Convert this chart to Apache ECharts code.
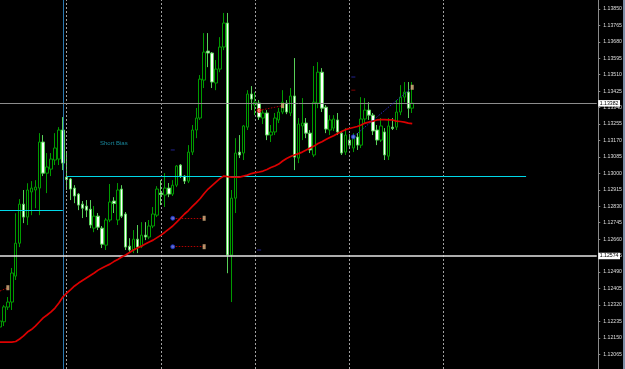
<!DOCTYPE html>
<html><head><meta charset="utf-8">
<script src="https://cdn.jsdelivr.net/npm/echarts@6/dist/echarts.min.js"></script>
<style>html,body{margin:0;padding:0;background:#000;overflow:hidden}#c{width:625px;height:369px}</style>
</head><body><div id="c"></div>
<script>
// ---- data (H1 candles) ----
const tickLabels = ['1.12065','1.12150','1.12235','1.12320','1.12405','1.12490','1.12575','1.12660','1.12745','1.12830','1.12915','1.13000','1.13085','1.13170','1.13255','1.13340','1.13425','1.13510','1.13595','1.13680','1.13765','1.13850'];
const priceMin = 1.11989, priceMax = 1.13896;
const opens = [1.12206,1.12233,1.12309,1.12335,1.12469,1.12639,1.12841,1.12774,1.12904,1.12914,1.12924,1.13162,1.13001,1.13022,1.13069,1.13074,1.13224,1.12981,1.12971,1.12924,1.12893,1.12841,1.12831,1.12815,1.12717,1.12779,1.12717,1.12629,1.12759,1.12857,1.12759,1.12919,1.12790,1.12624,1.12604,1.12660,1.12624,1.12681,1.12671,1.12728,1.12784,1.12898,1.12888,1.12924,1.12893,1.12939,1.13043,1.12986,1.12960,1.13110,1.13224,1.13286,1.13482,1.13632,1.13622,1.13467,1.13539,1.13653,1.13777,1.12578,1.12872,1.13110,1.13105,1.13239,1.13410,1.13353,1.13363,1.13286,1.13312,1.13198,1.13214,1.13276,1.13317,1.13363,1.13312,1.13400,1.13079,1.13245,1.13260,1.13208,1.13095,1.13363,1.13523,1.13342,1.13224,1.13234,1.13276,1.13208,1.13110,1.13172,1.13131,1.13188,1.13146,1.13281,1.13327,1.13301,1.13224,1.13172,1.13214,1.13089,1.13239,1.13239,1.13317,1.13394,1.13420,1.13337];
const closes = [1.12237,1.12310,1.12335,1.12485,1.12639,1.12841,1.12774,1.12914,1.12924,1.12929,1.13162,1.13001,1.13033,1.13074,1.13131,1.13224,1.13053,1.12968,1.12919,1.12883,1.12836,1.12820,1.12810,1.12733,1.12779,1.12722,1.12634,1.12759,1.12852,1.12844,1.12914,1.12779,1.12619,1.12604,1.12660,1.12619,1.12681,1.12671,1.12728,1.12790,1.12919,1.12891,1.12924,1.12893,1.12939,1.13038,1.12986,1.12960,1.13110,1.13224,1.13286,1.13487,1.13627,1.13622,1.13472,1.13539,1.13653,1.13777,1.12578,1.12872,1.13105,1.13095,1.13245,1.13410,1.13384,1.13368,1.13291,1.13312,1.13198,1.13214,1.13286,1.13317,1.13368,1.13317,1.13400,1.13084,1.13255,1.13260,1.13208,1.13121,1.13368,1.13523,1.13337,1.13229,1.13276,1.13281,1.13214,1.13105,1.13198,1.13146,1.13182,1.13146,1.13281,1.13327,1.13301,1.13219,1.13172,1.13245,1.13095,1.13245,1.13232,1.13317,1.13394,1.13420,1.13337,1.13363];
const lows = [1.12190,1.12211,1.12294,1.12294,1.12449,1.12619,1.12743,1.12733,1.12784,1.12820,1.12784,1.12986,1.12898,1.12986,1.13043,1.13043,1.13017,1.12914,1.12862,1.12846,1.12810,1.12769,1.12774,1.12717,1.12696,1.12707,1.12614,1.12604,1.12748,1.12795,1.12733,1.12769,1.12604,1.12593,1.12588,1.12588,1.12614,1.12655,1.12660,1.12717,1.12774,1.12836,1.12826,1.12877,1.12883,1.12929,1.12976,1.12945,1.12950,1.13095,1.13182,1.13276,1.13441,1.13549,1.13441,1.13430,1.13523,1.13637,1.12484,1.12335,1.12795,1.13079,1.13069,1.13224,1.13327,1.13301,1.13276,1.13255,1.13172,1.13162,1.13198,1.13260,1.13306,1.13306,1.13296,1.13017,1.13053,1.13172,1.13182,1.13105,1.13084,1.13337,1.13317,1.13208,1.13198,1.13219,1.13198,1.13095,1.13095,1.13131,1.13110,1.13121,1.13131,1.13255,1.13276,1.13198,1.13146,1.13162,1.13069,1.13069,1.13224,1.13224,1.13301,1.13368,1.13286,1.13312];
const highs = [1.12263,1.12319,1.12361,1.12511,1.12794,1.12867,1.12914,1.12949,1.12960,1.12965,1.13208,1.13198,1.13105,1.13105,1.13208,1.13239,1.13291,1.13110,1.12976,1.12939,1.12898,1.12857,1.12862,1.12862,1.12831,1.12795,1.12728,1.12769,1.12945,1.12877,1.12950,1.12939,1.12800,1.12665,1.12707,1.12733,1.12748,1.12748,1.12759,1.12826,1.12934,1.12965,1.13001,1.12950,1.12965,1.13043,1.13048,1.12991,1.13146,1.13250,1.13338,1.13508,1.13725,1.13725,1.13627,1.13586,1.13704,1.13829,1.13829,1.12914,1.13182,1.13198,1.13250,1.13430,1.13451,1.13420,1.13379,1.13327,1.13327,1.13250,1.13312,1.13338,1.13430,1.13379,1.13441,1.13596,1.13286,1.13389,1.13286,1.13224,1.13555,1.13575,1.13544,1.13353,1.13301,1.13301,1.13312,1.13219,1.13234,1.13203,1.13208,1.13208,1.13394,1.13389,1.13368,1.13312,1.13250,1.13286,1.13234,1.13286,1.13286,1.13379,1.13456,1.13472,1.13472,1.13472];
const movingAvg = [1.12128,1.12128,1.12128,1.12128,1.12131,1.12144,1.12160,1.12180,1.12193,1.12211,1.12232,1.12253,1.12268,1.12284,1.12304,1.12330,1.12361,1.12381,1.12399,1.12418,1.12433,1.12446,1.12459,1.12472,1.12485,1.12500,1.12511,1.12521,1.12531,1.12544,1.12555,1.12568,1.12578,1.12591,1.12604,1.12614,1.12624,1.12635,1.12645,1.12655,1.12668,1.12681,1.12696,1.12712,1.12728,1.12748,1.12769,1.12790,1.12808,1.12829,1.12849,1.12870,1.12896,1.12919,1.12937,1.12955,1.12973,1.12986,1.12983,1.12981,1.12981,1.12981,1.12986,1.12991,1.12999,1.13004,1.13007,1.13012,1.13020,1.13030,1.13038,1.13048,1.13064,1.13077,1.13087,1.13095,1.13102,1.13110,1.13121,1.13131,1.13141,1.13154,1.13164,1.13175,1.13185,1.13195,1.13206,1.13216,1.13226,1.13232,1.13237,1.13242,1.13250,1.13260,1.13265,1.13270,1.13276,1.13278,1.13278,1.13276,1.13276,1.13270,1.13268,1.13265,1.13260,1.13257];
const daySeparators = [17, 41, 65, 89, 113];
const sessionLine = 16;
const upperLevel = 1.12985, upperFrom = 17, upperTo = 134;
const lowerLevel = 1.12809, lowerFrom = 0, lowerTo = 16;
const bidLevel = 1.13362, bidText = '1.13382';
const whiteLevel = 1.12573, whiteText = '1.12574';
const buyOpen = [[44, 1.12768], [44, 1.12621], [90, 1.13189]];
const sellOpen = [[66, 1.13325]];
const closeMarks = [[52, 1.12768], [52, 1.12621], [72, 1.13350], [105, 1.13445], [2, 1.12409]];
const redTrades = [[[44, 1.12768], [52, 1.12768]], [[44, 1.12621], [52, 1.12621]], [[66, 1.13325], [72, 1.13350]], [[0, 1.12392], [2, 1.12409]]];
const blueTrades = [[[90, 1.13189], [105, 1.13445]]];
const blueStops = [[44, 1.13121], [66, 1.12604], [90, 1.13498]];
const redStops = [[90, 1.13430]];
const note = {text: 'Short Bias', bar: 29, price: 1.13157};
const BAR_SLOTS = 153;

// ---- build ----
const BASE = 1.12065, STEP = 85;
const V = p => (p - BASE) * 100000;
const tickValues = tickLabels.map((_, i) => i * STEP);
const cats = Array.from({length: BAR_SLOTS}, (_, i) => 'b' + i);
const candles = opens.map((o, i) => [V(o), V(closes[i]), V(lows[i]), V(highs[i])]);
const pt = a => [a[0], V(a[1])];
const cyan = {color: '#00d8e8', width: 1.2, type: 'solid'};
const FONT = 'Liberation Sans';
const boxLabel = t => ({show: true, position: 'end', distance: 1.5, formatter: () => t, backgroundColor: '#ffffff', color: '#000000', fontSize: 5.2, fontFamily: FONT, padding: [1, 1.5, 0.5, 1.5]});

const chart = echarts.init(document.getElementById('c'), null, {renderer: 'canvas'});
chart.setOption({
  backgroundColor: '#000000',
  animation: false,
  grid: {left: 0, right: 26.1, top: 0, bottom: 0, containLabel: false},
  xAxis: {type: 'category', data: cats, boundaryGap: false,
    axisLine: {show: false}, axisTick: {show: false}, axisLabel: {show: false}, splitLine: {show: false}},
  yAxis: {type: 'value', position: 'right', offset: 1.5, min: V(priceMin), max: V(priceMax),
    axisLine: {show: true, lineStyle: {color: '#8a8a8a', width: 1}},
    axisTick: {show: true, length: 2, customValues: tickValues, lineStyle: {color: '#8a8a8a'}},
    splitLine: {show: false},
    axisLabel: {color: '#dedede', fontSize: 5.2, fontFamily: FONT, margin: 5, customValues: tickValues,
      showMinLabel: true, showMaxLabel: true,
      formatter: v => { const r = v / STEP, i = Math.round(r); return Math.abs(r - i) < 0.01 ? (tickLabels[i] || '') : ''; }}},
  series: [
    {type: 'line', data: [], z: 1, silent: true,
      markLine: {silent: true, symbol: 'none', animation: false, label: {show: false},
        data: daySeparators.map(i => ({xAxis: i, lineStyle: {color: '#a0a0a0', type: [2, 2], width: 1}}))
          .concat([{xAxis: sessionLine, lineStyle: {color: '#2a78b0', type: 'solid', width: 1}}])}},
    {type: 'candlestick', data: candles, z: 3, barWidth: 3, clip: true,
      itemStyle: {color: '#000000', color0: '#ffffff', borderColor: '#009c00', borderColor0: '#58d058', borderWidth: 1}},
    {type: 'line', data: [], z: 4, silent: true,
      markLine: {silent: true, symbol: 'none', animation: false, lineStyle: cyan, label: {show: false},
        data: [
          [{coord: [upperFrom, V(upperLevel)], lineStyle: cyan}, {coord: [upperTo, V(upperLevel)], lineStyle: cyan}],
          [{coord: [lowerFrom, V(lowerLevel)], lineStyle: cyan}, {coord: [lowerTo, V(lowerLevel)], lineStyle: cyan}],
          {yAxis: V(bidLevel), lineStyle: {color: '#8c8c8c', width: 1, type: 'solid'}, label: boxLabel(bidText)},
          {yAxis: V(whiteLevel), lineStyle: {color: '#e6e6e6', width: 1.5, type: 'solid'}, label: boxLabel(whiteText)}
        ]}},
    {type: 'line', data: movingAvg.map(V), z: 5, symbol: 'none', silent: true,
      lineStyle: {color: '#dc0000', width: 1.7}},
    {type: 'lines', coordinateSystem: 'cartesian2d', z: 6, silent: true,
      data: redTrades.map(s => ({coords: s.map(pt)})),
      lineStyle: {color: '#b00000', width: 1, type: [1.5, 1.5], opacity: 1}},
    {type: 'lines', coordinateSystem: 'cartesian2d', z: 6, silent: true,
      data: blueTrades.map(s => ({coords: s.map(pt)})),
      lineStyle: {color: '#2828b8', width: 1, type: [1.5, 1.5], opacity: 1}},
    {type: 'scatter', data: buyOpen.map(pt), z: 7, symbol: 'circle', symbolSize: 4,
      itemStyle: {color: '#6b86ff', borderColor: '#1e30d0', borderWidth: 1}},
    {type: 'scatter', data: sellOpen.map(pt), z: 7, symbol: 'circle', symbolSize: 4,
      itemStyle: {color: '#ff6060', borderColor: '#d00000', borderWidth: 1}},
    {type: 'scatter', data: closeMarks.map(pt), z: 7, symbol: 'rect', symbolSize: [3, 5],
      itemStyle: {color: '#e2b482'}},
    {type: 'scatter', data: blueStops.map(pt), z: 7, symbol: 'rect', symbolSize: [4, 1],
      itemStyle: {color: '#2a2ab0'}},
    {type: 'scatter', data: redStops.map(pt), z: 7, symbol: 'rect', symbolSize: [4, 1],
      itemStyle: {color: '#a00000'}},
    {type: 'scatter', data: [[note.bar, V(note.price)]], z: 8, symbolSize: 0, silent: true,
      label: {show: true, position: 'inside', formatter: note.text, color: '#1fa8c0', fontSize: 6, fontFamily: FONT}}
  ],
  graphic: [{type: 'rect', right: 0, top: 0, shape: {width: 2, height: 369}, style: {fill: '#7d8ea6'}, silent: true}]
});
</script>
</body></html>
